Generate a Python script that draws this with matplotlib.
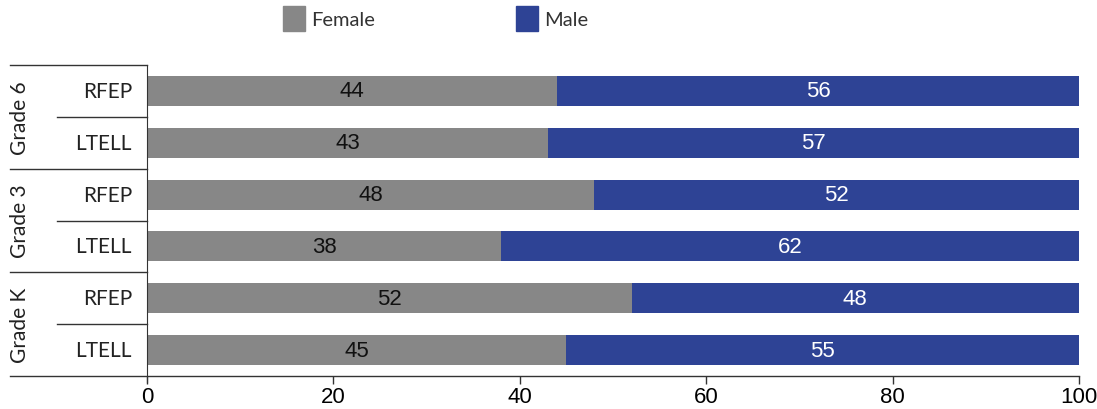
import matplotlib
matplotlib.use("Agg")
import matplotlib.pyplot as plt
from matplotlib.patches import Rectangle

groups = ["Grade 6", "Grade 3", "Grade K"]
subgroups = ["RFEP", "LTELL", "RFEP", "LTELL", "RFEP", "LTELL"]
female = [44, 43, 48, 38, 52, 45]
male = [56, 57, 52, 62, 48, 55]
xticks = [0, 20, 40, 60, 80, 100]

GRAY = "#878787"
BLUE = "#2e4395"
LINE = "#333333"
LABEL_FONT = ["Lato", "DejaVu Sans"]
TICK_FONT = ["Liberation Sans", "DejaVu Sans"]

fig = plt.figure(figsize=(10.97, 4.10), dpi=100)
ax = fig.add_axes([147/1097, 33/410, (1079-147)/1097, (377-66)/410])

y = list(range(len(subgroups)))
ax.barh(y, female, height=0.58, color=GRAY)
ax.barh(y, male, left=female, height=0.58, color=BLUE)

for yi, f, m in zip(y, female, male):
    ax.text(f/2, yi, str(f), ha="center", va="center", fontsize=16,
            color="#111111", family=TICK_FONT)
    ax.text(f + m/2, yi, str(m), ha="center", va="center", fontsize=16,
            color="white", family=TICK_FONT)

ax.set_xlim(0, 100)
ax.set_ylim(len(subgroups) - 0.5, -0.5)
ax.set_xticks(xticks)
ax.set_xticklabels([str(t) for t in xticks], family=TICK_FONT, fontsize=16)
ax.set_yticks([])
ax.tick_params(axis="x", length=6, width=1, color=LINE, pad=1)
for s in ["top", "right"]:
    ax.spines[s].set_visible(False)
ax.spines["bottom"].set_visible(False)
ax.spines["left"].set_color(LINE)
ax.spines["left"].set_bounds(len(subgroups) - 0.5 + 0.12, -0.5)

trans = ax.get_yaxis_transform()
x_far = -137/932
x_mid = -90/932
ax.plot([x_far, 1], [5.5, 5.5], transform=trans, color=LINE, lw=1, clip_on=False)
for b in [-0.5, 1.5, 3.5]:
    ax.plot([x_far, 0], [b, b], transform=trans, color=LINE, lw=1, clip_on=False)
for b in [0.5, 2.5, 4.5]:
    ax.plot([x_mid, 0], [b, b], transform=trans, color=LINE, lw=1, clip_on=False)

for yi, s in zip(y, subgroups):
    ax.text(-15/932, yi, s, transform=trans, ha="right", va="center",
            fontsize=15, color="#222222", family=LABEL_FONT)
for gi, g in enumerate(groups):
    ax.text(-127/932, 2*gi + 0.5, g, transform=trans, ha="center", va="center",
            rotation=90, fontsize=15, color="#222222", family=LABEL_FONT)

# legend
fig.patches.append(Rectangle((283/1097, (410-32)/410), 22/1097, 25/410,
                             transform=fig.transFigure, color=GRAY))
fig.text(311/1097, 1 - 21/410, "Female", ha="left", va="center", fontsize=14.5,
         color="#333333", family=LABEL_FONT)
fig.patches.append(Rectangle((516/1097, (410-32)/410), 22/1097, 25/410,
                             transform=fig.transFigure, color=BLUE))
fig.text(544/1097, 1 - 21/410, "Male", ha="left", va="center", fontsize=14.5,
         color="#333333", family=LABEL_FONT)

fig.savefig("out.png", dpi=100)
